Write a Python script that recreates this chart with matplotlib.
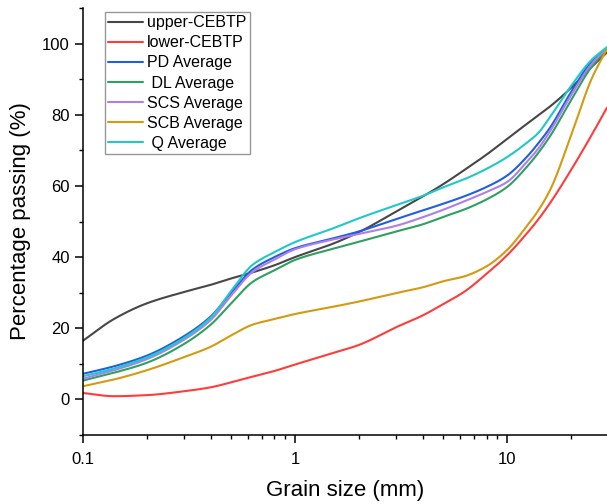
import numpy as np
import matplotlib
matplotlib.use("Agg")
import matplotlib.pyplot as plt
from matplotlib.ticker import LogLocator, NullFormatter, FixedLocator, MultipleLocator

plt.rcParams['font.family'] = ['Liberation Sans', 'DejaVu Sans']

# Grain size (mm)
grain_size = [0.1, 0.14, 0.2, 0.3, 0.4, 0.5, 0.63, 0.8, 1, 1.5, 2, 3, 4, 5,
              6.3, 8, 10, 12.5, 14, 16, 20, 25, 29.6]

# Percentage passing (%)
upper_cebtp = [16.5, 22.6, 27.0, 30.2, 32.2, 34.0, 35.7, 37.7, 40.0, 43.7, 47.0,
               52.8, 57.0, 60.5, 64.5, 68.8, 73.2, 77.6, 79.8, 82.4, 87.5, 93.4, 97.5]
lower_cebtp = [1.8, 0.9, 1.2, 2.3, 3.4, 4.8, 6.4, 8.0, 9.8, 13.0, 15.3, 20.3,
               23.6, 26.8, 30.3, 35.3, 40.5, 46.9, 50.5, 55.3, 64.4, 74.2, 82.0]
pd_avg = [7.2, 9.3, 12.3, 17.8, 23.3, 30.0, 36.5, 40.0, 42.5, 45.2, 47.2, 50.7,
          53.1, 55.0, 57.1, 59.7, 62.9, 68.4, 71.9, 76.5, 86.3, 94.9, 98.8]
dl_avg = [5.3, 7.5, 10.3, 15.6, 21.0, 27.0, 33.0, 36.3, 39.2, 42.3, 44.3, 47.2,
          49.2, 51.3, 53.4, 56.2, 59.7, 65.6, 69.2, 74.1, 84.0, 93.4, 98.3]
scs_avg = [5.8, 8.2, 11.3, 16.8, 22.3, 29.2, 35.8, 39.3, 42.2, 44.9, 46.5, 48.8,
           51.2, 53.3, 55.7, 58.3, 61.1, 67.0, 70.4, 75.5, 85.4, 94.2, 98.7]
scb_avg = [3.7, 5.6, 8.2, 11.9, 14.8, 18.0, 21.0, 22.6, 24.0, 26.0, 27.5, 29.9,
           31.5, 33.2, 34.6, 37.4, 42.0, 49.0, 53.0, 59.0, 74.0, 90.0, 98.5]
q_avg = [6.5, 8.7, 11.8, 17.3, 23.0, 30.5, 37.8, 41.4, 44.2, 48.0, 50.9, 54.6,
         57.2, 59.6, 61.9, 64.8, 68.1, 72.3, 74.8, 79.5, 88.0, 95.4, 99.0]

series = [
    ("upper-CEBTP", upper_cebtp, "#474747"),
    ("lower-CEBTP", lower_cebtp, "#ff3c3c"),
    ("PD Average", pd_avg, "#1f5fe0"),
    (" DL Average", dl_avg, "#2fa060"),
    ("SCS Average", scs_avg, "#b07ee6"),
    ("SCB Average", scb_avg, "#d49a10"),
    (" Q Average", q_avg, "#20c8c8"),
]


def smooth_line(x, y, n=400):
    """Monotone cubic (PCHIP) connection through the points, in log-x space."""
    lx = np.log10(np.asarray(x, float))
    y = np.asarray(y, float)
    h = np.diff(lx)
    d = np.diff(y) / h
    m = np.zeros_like(y)
    for k in range(1, len(y) - 1):
        if d[k - 1] * d[k] > 0:
            w1 = 2 * h[k] + h[k - 1]
            w2 = h[k] + 2 * h[k - 1]
            m[k] = (w1 + w2) / (w1 / d[k - 1] + w2 / d[k])
    m[0], m[-1] = d[0], d[-1]
    ln = np.linspace(lx[0], lx[-1], n)
    idx = np.clip(np.searchsorted(lx, ln) - 1, 0, len(lx) - 2)
    t = (ln - lx[idx]) / h[idx]
    h00 = 2 * t**3 - 3 * t**2 + 1
    h10 = t**3 - 2 * t**2 + t
    h01 = -2 * t**3 + 3 * t**2
    h11 = t**3 - t**2
    yn = (h00 * y[idx] + h10 * h[idx] * m[idx]
          + h01 * y[idx + 1] + h11 * h[idx] * m[idx + 1])
    return 10 ** ln, yn


W, H = 607, 504
fig = plt.figure(figsize=(W / 100, H / 100), dpi=100)
ax = fig.add_axes([83 / W, 1 - 435 / H, (W - 83) / W, (435 - 8) / H])

for label, vals, color in series:
    xs, ys = smooth_line(grain_size, vals)
    ax.plot(xs, ys, color=color, lw=1.5, label=label, solid_capstyle='round')

ax.set_xscale('log')
ax.set_xlim(0.1, 29.6)
ax.set_ylim(-10, 110)

ax.xaxis.set_major_locator(FixedLocator([0.1, 1, 10]))
ax.set_xticklabels(["0.1", "1", "10"])
ax.xaxis.set_minor_locator(LogLocator(base=10, subs=range(2, 10)))
ax.xaxis.set_minor_formatter(NullFormatter())
ax.yaxis.set_major_locator(MultipleLocator(20))
ax.yaxis.set_minor_locator(MultipleLocator(10))

for side in ('top', 'right'):
    ax.spines[side].set_visible(False)
for side in ('left', 'bottom'):
    ax.spines[side].set_linewidth(1.1)

ax.tick_params(which='major', direction='out', length=5.5, width=1.1,
               labelsize=12, pad=4)
ax.tick_params(axis='x', which='major', pad=7)
ax.tick_params(which='minor', direction='out', length=3.2, width=1.0)

ax.set_xlabel("Grain size (mm)", fontsize=16, labelpad=9)
ax.set_ylabel("Percentage passing (%)", fontsize=16, labelpad=8)

leg = ax.legend(loc='upper left', bbox_to_anchor=(105 / W, 1 - 12 / H),
                bbox_transform=fig.transFigure, fontsize=11.5, frameon=True,
                fancybox=False, borderpad=0.2, labelspacing=0.32,
                handlelength=2.2, handletextpad=0.25, borderaxespad=0)
leg.get_frame().set_edgecolor('#7f7f7f')
leg.get_frame().set_linewidth(1.0)

fig.savefig("out.png", dpi=100)
